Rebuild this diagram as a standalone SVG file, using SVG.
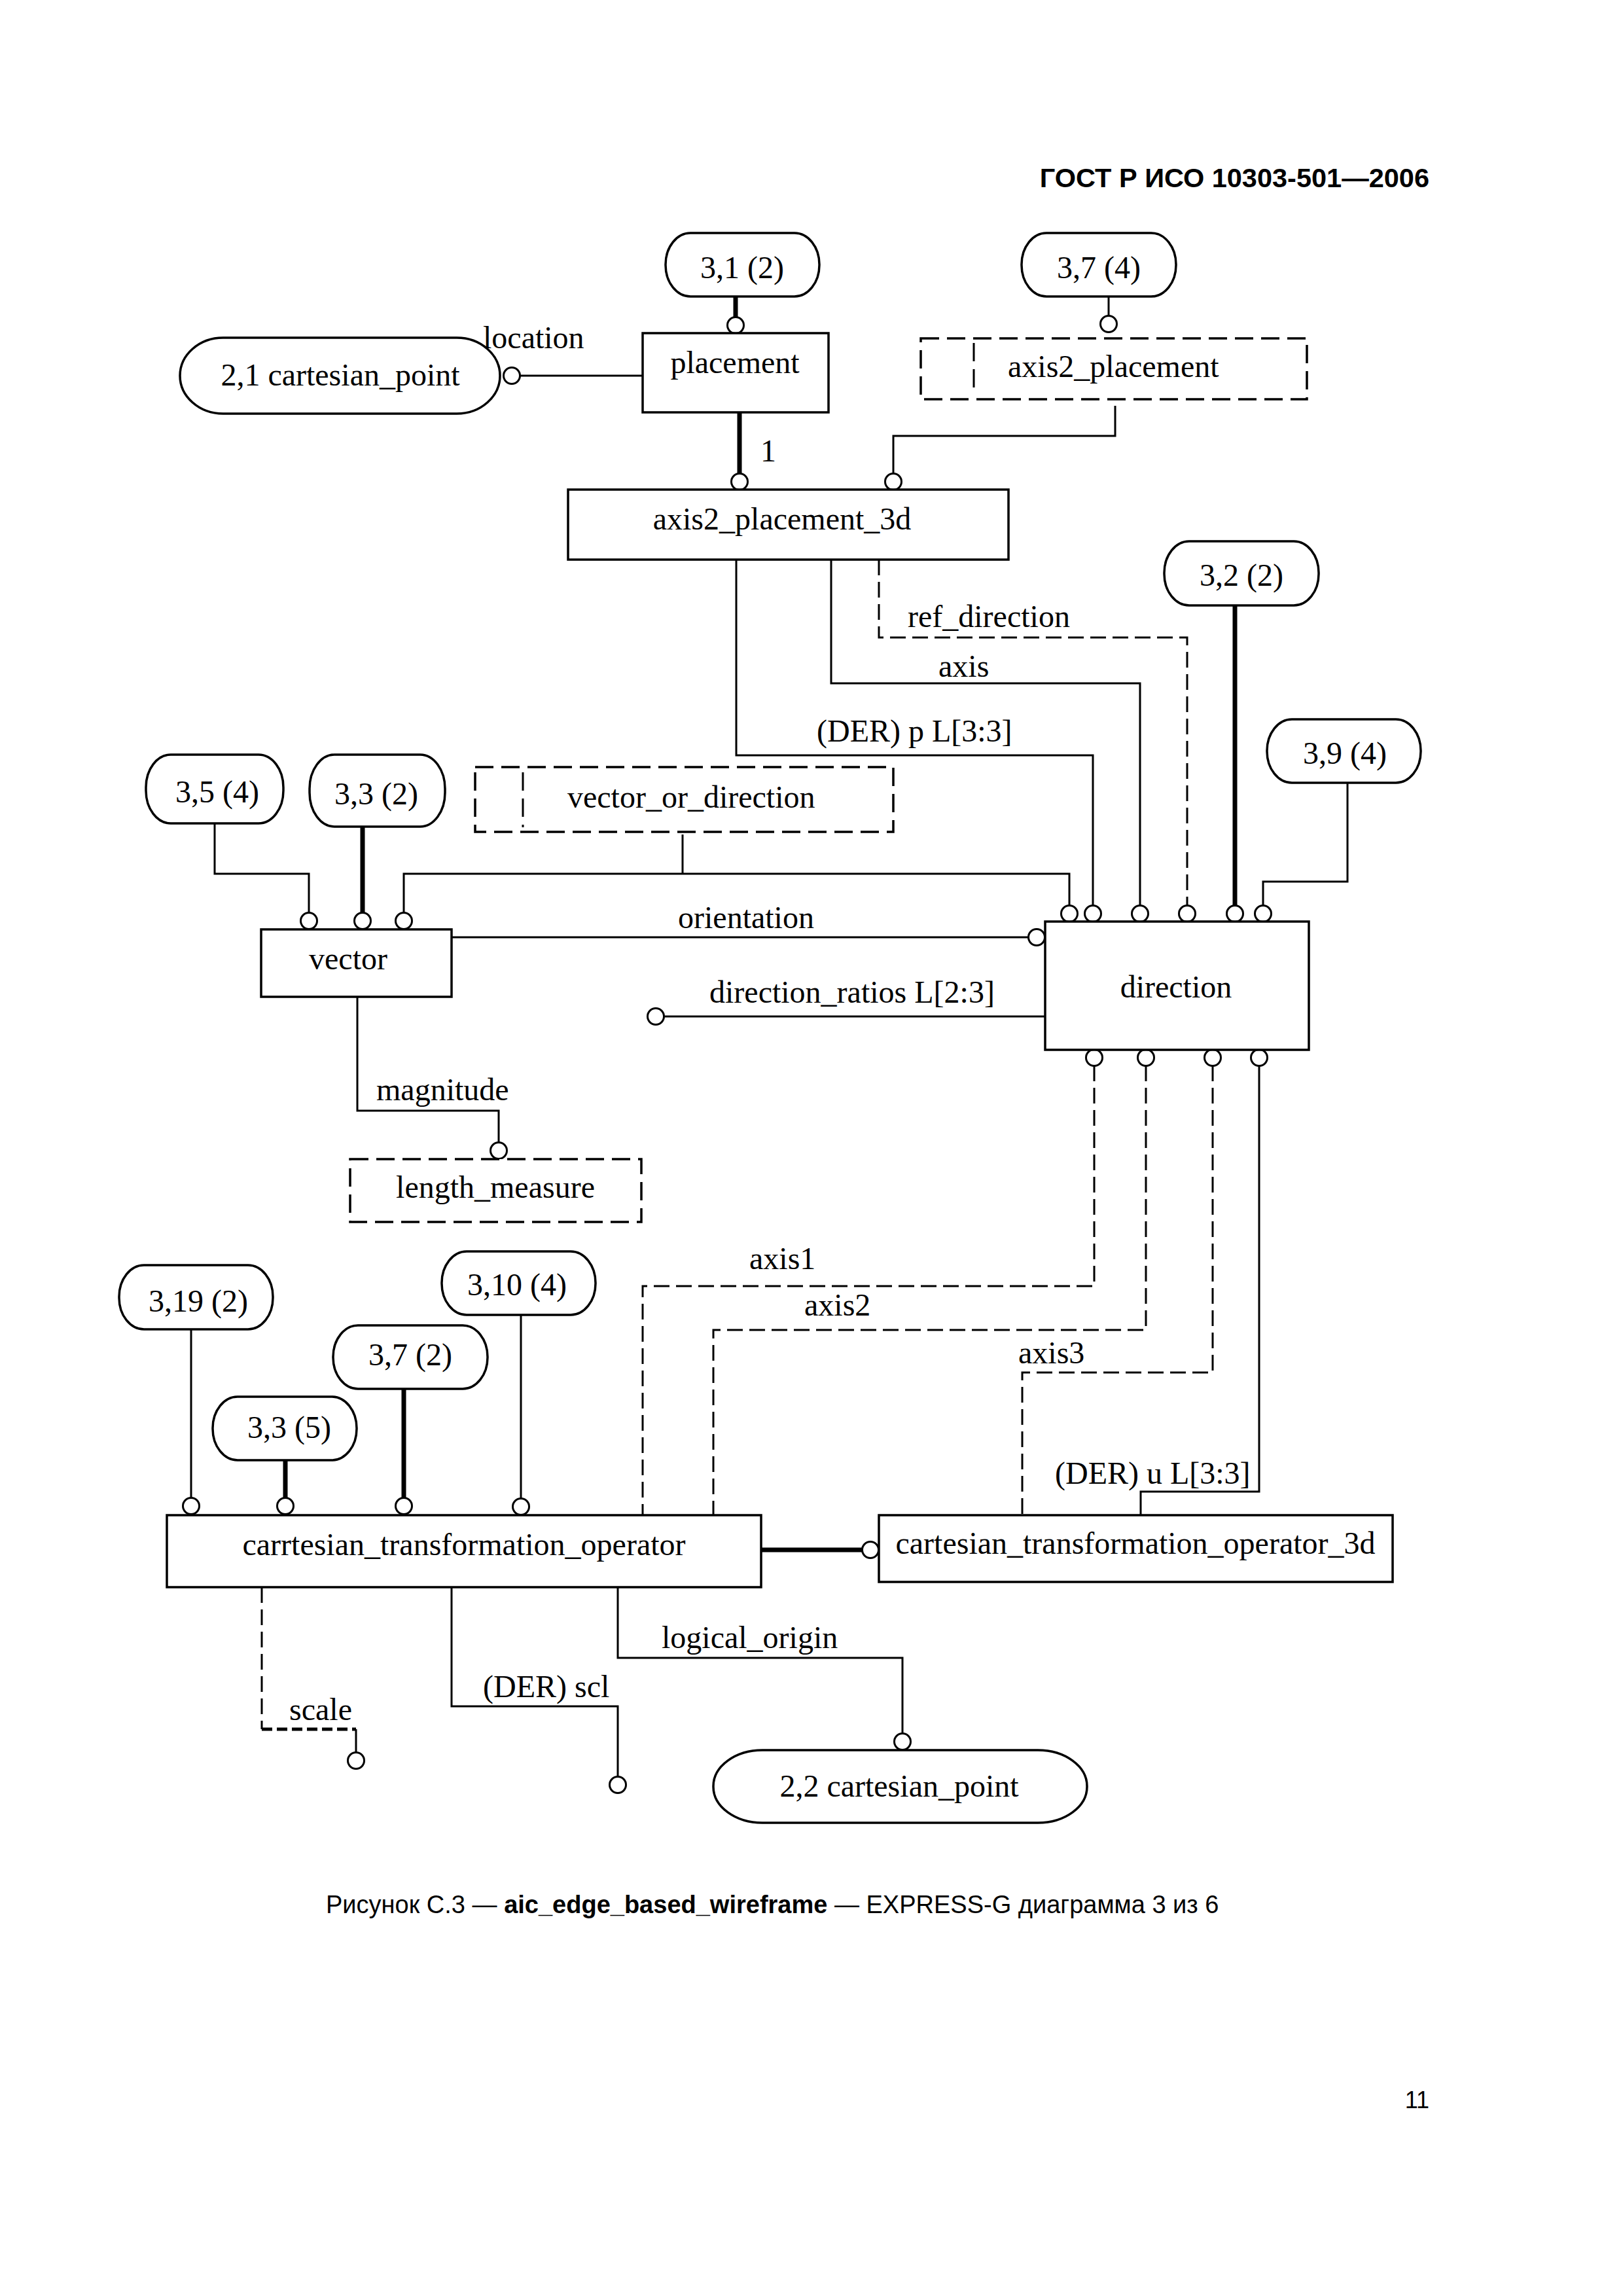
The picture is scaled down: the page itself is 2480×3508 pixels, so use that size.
<svg xmlns="http://www.w3.org/2000/svg" width="2480" height="3508" viewBox="0 0 2480 3508">
<style>
.bg{fill:#fff}
.box{fill:#fff;stroke:#000;stroke-width:3.5}
.dbox{fill:#fff;stroke:#000;stroke-width:3.5;stroke-dasharray:28 12}
.dl{fill:none;stroke:#000;stroke-width:3;stroke-dasharray:28 12}
.t{font-family:"Liberation Serif","Times New Roman",serif;font-size:48px;fill:#000}
.m{text-anchor:middle}
.c{fill:none;stroke:#000;stroke-width:3}
.k{fill:none;stroke:#000;stroke-width:7}
.cd{fill:none;stroke:#000;stroke-width:3;stroke-dasharray:24 10}
.cdk{fill:none;stroke:#000;stroke-width:5;stroke-dasharray:16 7}
.o{fill:#fff;stroke:#000;stroke-width:3}
.h{font-family:"Liberation Sans",Arial,sans-serif;fill:#000}
</style>
<rect class="bg" x="0" y="0" width="2480" height="3508"/>
<text class="h" x="2184" y="286" font-size="41.5" font-weight="bold" text-anchor="end">ГОСТ Р ИСО 10303-501—2006</text>

<g id="connectors">
  <line class="k" x1="1124" y1="453" x2="1124" y2="486"/>
  <circle class="o" cx="1124" cy="497" r="12.5"/>
  <line class="c" x1="1694" y1="453" x2="1694" y2="483"/>
  <circle class="o" cx="1694" cy="495" r="12.5"/>
  <line class="c" x1="982" y1="574" x2="795" y2="574" stroke-width="3.5"/>
  <circle class="o" cx="782" cy="574" r="12.5"/>
  <line class="k" x1="1130" y1="630" x2="1130" y2="724"/>
  <circle class="o" cx="1130" cy="736" r="12.5"/>
  <polyline class="c" points="1704,620 1704,666 1365,666 1365,724"/>
  <circle class="o" cx="1365" cy="736" r="12.5"/>
  <polyline class="c" points="1125,855 1125,1154 1670,1154 1670,1384"/>
  <circle class="o" cx="1670" cy="1396" r="12.5"/>
  <polyline class="c" points="1270,855 1270,1044 1742,1044 1742,1384"/>
  <circle class="o" cx="1742" cy="1396" r="12.5"/>
  <polyline class="cd" points="1343,855 1343,974 1814,974 1814,1384"/>
  <circle class="o" cx="1814" cy="1396" r="12.5"/>
  <line class="k" x1="1887" y1="925" x2="1887" y2="1384"/>
  <circle class="o" cx="1887" cy="1396" r="12.5"/>
  <polyline class="c" points="2059,1196 2059,1347 1930,1347 1930,1384"/>
  <circle class="o" cx="1930" cy="1396" r="12.5"/>
  <line class="c" x1="1043" y1="1275" x2="1043" y2="1335"/>
  <polyline class="c" points="617,1395 617,1335 1634,1335 1634,1384"/>
  <circle class="o" cx="617" cy="1407" r="12.5"/>
  <circle class="o" cx="1634" cy="1396" r="12.5"/>
  <polyline class="c" points="328,1258 328,1335 472,1335 472,1395"/>
  <circle class="o" cx="472" cy="1407" r="12.5"/>
  <line class="k" x1="554" y1="1263" x2="554" y2="1395"/>
  <circle class="o" cx="554" cy="1407" r="12.5"/>
  <line class="c" x1="682" y1="1432" x2="1572" y2="1432" stroke-width="3.5"/>
  <circle class="o" cx="1584" cy="1432" r="12.5"/>
  <line class="c" x1="1597" y1="1553" x2="1015" y2="1553"/>
  <circle class="o" cx="1002" cy="1553" r="12.5"/>
  <polyline class="c" points="546,1523 546,1697 762,1697 762,1746"/>
  <circle class="o" cx="762" cy="1758" r="12.5"/>
  <polyline class="cd" points="1672,1628 1672,1965 982,1965 982,2315"/>
  <circle class="o" cx="1672" cy="1616" r="12.5"/>
  <polyline class="cd" points="1751,1628 1751,2032 1090,2032 1090,2315"/>
  <circle class="o" cx="1751" cy="1616" r="12.5"/>
  <polyline class="cd" points="1853,1628 1853,2097 1562,2097 1562,2315"/>
  <circle class="o" cx="1853" cy="1616" r="12.5"/>
  <polyline class="c" points="1924,1628 1924,2279 1743,2279 1743,2315"/>
  <circle class="o" cx="1924" cy="1616" r="12.5"/>
  <line class="c" x1="292" y1="2031" x2="292" y2="2289"/>
  <circle class="o" cx="292" cy="2301" r="12.5"/>
  <line class="k" x1="436" y1="2231" x2="436" y2="2289"/>
  <circle class="o" cx="436" cy="2301" r="12.5"/>
  <line class="k" x1="617" y1="2122" x2="617" y2="2289"/>
  <circle class="o" cx="617" cy="2301" r="12.5"/>
  <line class="c" x1="796" y1="2009" x2="796" y2="2290"/>
  <circle class="o" cx="796" cy="2302" r="12.5"/>
  <line class="k" x1="1163" y1="2368" x2="1318" y2="2368"/>
  <circle class="o" cx="1330" cy="2368" r="12.5"/>
  <line class="cd" x1="400" y1="2425" x2="400" y2="2642"/>
  <line class="cdk" x1="400" y1="2642" x2="544" y2="2642"/>
  <line class="c" x1="544" y1="2642" x2="544" y2="2677"/>
  <circle class="o" cx="544" cy="2690" r="12.5"/>
  <polyline class="c" points="690,2425 690,2607 944,2607 944,2714"/>
  <circle class="o" cx="944" cy="2727" r="12.5"/>
  <polyline class="c" points="944,2425 944,2533 1379,2533 1379,2648"/>
  <circle class="o" cx="1379" cy="2661" r="12.5"/>
</g>

<g id="labels">
  <text class="t" x="738" y="532">location</text>
  <text class="t" x="1162" y="705">1</text>
  <text class="t" x="1387" y="958">ref_direction</text>
  <text class="t" x="1434" y="1034">axis</text>
  <text class="t" x="1248" y="1133">(DER) p L[3:3]</text>
  <text class="t" x="1036" y="1418">orientation</text>
  <text class="t" x="1084" y="1532">direction_ratios L[2:3]</text>
  <text class="t" x="575" y="1681">magnitude</text>
  <text class="t" x="1145" y="1939">axis1</text>
  <text class="t" x="1229" y="2010">axis2</text>
  <text class="t" x="1556" y="2083">axis3</text>
  <text class="t" x="1612" y="2267">(DER) u L[3:3]</text>
  <text class="t" x="442" y="2628">scale</text>
  <text class="t" x="738" y="2593">(DER) scl</text>
  <text class="t" x="1011" y="2518">logical_origin</text>
</g>

<g id="n_ref_3_1_2"><rect class="box" x="1017" y="356" width="235" height="97" rx="38" ry="48"/><text class="t m" x="1134" y="425">3,1 (2)</text></g>
<g id="n_ref_3_7_4"><rect class="box" x="1561" y="356" width="236" height="97" rx="38" ry="48"/><text class="t m" x="1679" y="425">3,7 (4)</text></g>
<g id="n_cartesian_point_2_1"><rect class="box" x="275" y="516" width="489" height="116" rx="66" ry="58"/><text class="t m" x="520" y="589">2,1 cartesian_point</text></g>
<g id="n_placement"><rect class="box" x="982" y="509" width="284" height="121"/><text class="t m" x="1123" y="570">placement</text></g>
<g id="n_axis2_placement"><rect class="dbox" x="1407" y="517" width="590" height="93"/><line class="dl" x1="1488" y1="524" x2="1488" y2="603"/><text class="t" x="1540" y="576">axis2_placement</text></g>
<g id="n_axis2_placement_3d"><rect class="box" x="868" y="748" width="673" height="107"/><text class="t m" x="1195" y="809">axis2_placement_3d</text></g>
<g id="n_ref_3_2_2"><rect class="box" x="1779" y="827" width="236" height="98" rx="38" ry="48"/><text class="t m" x="1897" y="895">3,2 (2)</text></g>
<g id="n_ref_3_9_4"><rect class="box" x="1936" y="1099" width="235" height="97" rx="38" ry="48"/><text class="t m" x="2055" y="1167">3,9 (4)</text></g>
<g id="n_ref_3_5_4"><rect class="box" x="223" y="1153" width="210" height="105" rx="38" ry="50"/><text class="t m" x="332" y="1226">3,5 (4)</text></g>
<g id="n_ref_3_3_2"><rect class="box" x="473" y="1153" width="207" height="110" rx="38" ry="52"/><text class="t m" x="575" y="1229">3,3 (2)</text></g>
<g id="n_vector_or_direction"><rect class="dbox" x="726" y="1172" width="639" height="99"/><line class="dl" x1="799" y1="1180" x2="799" y2="1264"/><text class="t" x="867" y="1234">vector_or_direction</text></g>
<g id="n_vector"><rect class="box" x="399" y="1420" width="291" height="103"/><text class="t m" x="532" y="1481">vector</text></g>
<g id="n_direction"><rect class="box" x="1597" y="1408" width="403" height="196"/><text class="t m" x="1797" y="1524">direction</text></g>
<g id="n_length_measure"><rect class="dbox" x="535" y="1771" width="445" height="96"/><text class="t m" x="757" y="1830">length_measure</text></g>
<g id="n_ref_3_19_2"><rect class="box" x="182" y="1933" width="235" height="98" rx="38" ry="48"/><text class="t m" x="303" y="2004">3,19 (2)</text></g>
<g id="n_ref_3_10_4"><rect class="box" x="675" y="1912" width="235" height="97" rx="38" ry="48"/><text class="t m" x="790" y="1979">3,10 (4)</text></g>
<g id="n_ref_3_7_2"><rect class="box" x="509" y="2025" width="236" height="97" rx="38" ry="48"/><text class="t m" x="627" y="2086">3,7 (2)</text></g>
<g id="n_ref_3_3_5"><rect class="box" x="325" y="2134" width="220" height="97" rx="38" ry="48"/><text class="t m" x="442" y="2197">3,3 (5)</text></g>
<g id="n_carrtesian_transformation_operator"><rect class="box" x="255" y="2315" width="908" height="110"/><text class="t m" x="709" y="2376">carrtesian_transformation_operator</text></g>
<g id="n_cartesian_transformation_operator_3d"><rect class="box" x="1343" y="2315" width="785" height="102"/><text class="t m" x="1735" y="2374">cartesian_transformation_operator_3d</text></g>
<g id="n_cartesian_point_2_2"><rect class="box" x="1090" y="2674" width="571" height="111" rx="75" ry="55"/><text class="t m" x="1374" y="2745">2,2 cartesian_point</text></g>

<text class="h" x="498" y="2923" font-size="38">Рисунок С.3 — <tspan font-weight="bold">aic_edge_based_wireframe</tspan> — EXPRESS-G диаграмма 3 из 6</text>
<text class="h" x="2184" y="3221" font-size="36" text-anchor="end">11</text>
</svg>
